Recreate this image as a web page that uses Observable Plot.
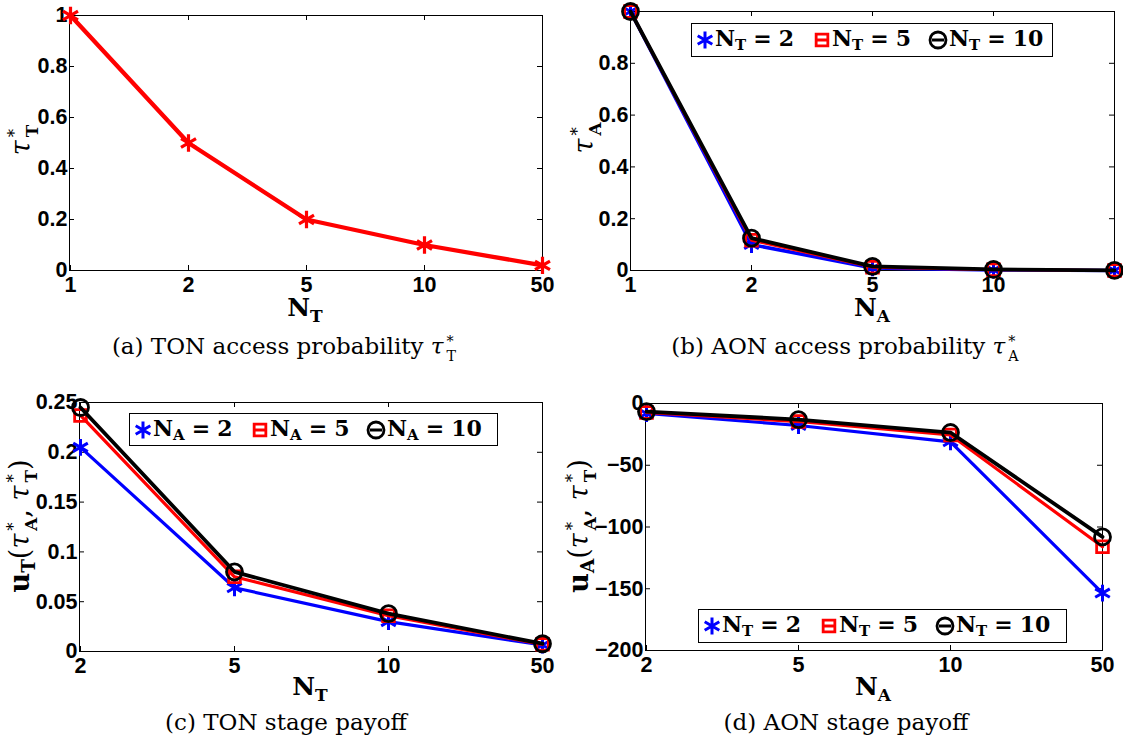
<!DOCTYPE html>
<html><head><meta charset="utf-8">
<script src="https://cdn.jsdelivr.net/npm/d3@7"></script>
<script src="https://cdn.jsdelivr.net/npm/@observablehq/plot@0.6"></script>
<style>
body{margin:0;background:#fff;}
#root{position:relative;width:1123px;height:742px;overflow:hidden;background:#fff;}
.panel{position:absolute;}
.panel svg{overflow:visible;background:transparent;}
.lab{position:absolute;white-space:nowrap;font-family:"DejaVu Serif",serif;line-height:1;}
.cap{font-size:23px;transform:translate(-50%,-50%);}
.xt{font-size:25px;font-weight:bold;transform:translate(-50%,-50%);}
.yt{font-size:27px;transform:translate(-50%,-50%) rotate(-90deg);}
.ss{display:inline-block;vertical-align:-0.5em;font-size:0.62em;line-height:1.05;text-align:left;margin-left:3px;}
.ss>span{display:block;}
.sb{font-size:0.68em;vertical-align:-0.32em;}
.b{font-weight:bold;}
.legend{position:absolute;border:1.5px solid #000;background:#fff;box-sizing:border-box;}
.legend .item{position:absolute;top:50%;transform:translateY(-50%);font-family:"DejaVu Serif",serif;font-weight:bold;font-size:22px;white-space:nowrap;line-height:1;}
.legend svg{position:absolute;top:50%;transform:translate(-50%,-50%);overflow:visible;}
.eq{margin:0 0.32em;}
</style>
</head><body><div id="root"></div>
<script>
// ---------- data ----------
const nT_a = [1, 2, 5, 10, 50];
const tauT = [1, 0.5, 0.2, 0.1, 0.02];
const xLabels_a = ["1", "2", "5", "10", "50"];
const yTicks_a = [0, 0.2, 0.4, 0.6, 0.8, 1];

const nA_b = [1, 2, 5, 10, 50];
const xLabels_b = ["1", "2", "5", "10", ""];
const tauA_NT2 = [1, 0.100, 0.010, 0.002, 0.0003];
const tauA_NT5 = [1, 0.117, 0.013, 0.003, 0.0004];
const tauA_NT10 = [1, 0.125, 0.016, 0.004, 0.0005];
const yTicks_b = [0, 0.2, 0.4, 0.6, 0.8];

const nT_c = [2, 5, 10, 50];
const xLabels_c = ["2", "5", "10", "50"];
const uT_NA2 = [0.205, 0.064, 0.030, 0.0065];
const uT_NA5 = [0.237, 0.075, 0.036, 0.0072];
const uT_NA10 = [0.245, 0.080, 0.038, 0.0078];
const yTicks_c = [0, 0.05, 0.1, 0.15, 0.2, 0.25];

const nA_d = [2, 5, 10, 50];
const xLabels_d = ["2", "5", "10", "50"];
const uA_NT2 = [-8.1, -17.8, -31, -153.5];
const uA_NT5 = [-7.3, -14.6, -25.5, -116];
const uA_NT10 = [-6.5, -13, -23.5, -108];
const yTicks_d = [-200, -150, -100, -50, 0];

const seriesNames_T = ["2", "5", "10"];
const colors = ["#0000ff", "#ff0000", "#000000"];
const symbols = ["asterisk", "square", "circle"];

// ---------- helpers ----------
const root = document.getElementById("root");
const yFmt = d => d < 0 ? "\u2212" + (-d) : String(d);
const markR = [8, 6.6, 8], markSW = [3, 2.8, 2.8];

function makePanel(cfg) {
  const {xs, xLabels, yDomain, yTicks, series, width, height, ml, mr, mt, mb, left, top} = cfg;
  const fw = width - ml - mr, fh = height - mt - mb;
  const T = 5;
  const marks = [
    Plot.ruleX(xs, {insetTop: fh - T, stroke: "#000", strokeWidth: 1}),
    Plot.ruleX(xs, {insetBottom: fh - T, stroke: "#000", strokeWidth: 1}),
    Plot.ruleY(yTicks, {insetRight: fw - T, stroke: "#000", strokeWidth: 1}),
    Plot.ruleY(yTicks, {insetLeft: fw - T, stroke: "#000", strokeWidth: 1}),
    Plot.frame({stroke: "#000", strokeWidth: 1}),
    Plot.axisX({ticks: xs, tickSize: 0, tickPadding: 6, tickFormat: d => xLabels[xs.indexOf(d)], fontSize: 21.5, label: null}),
    Plot.axisY({ticks: yTicks, tickSize: 0, tickPadding: 2, tickFormat: yFmt, fontSize: 21.5, label: null})
  ];
  for (const s of series) {
    const rows = xs.map((x, i) => ({x, y: s.values[i]}));
    marks.push(Plot.line(rows, {x: "x", y: "y", stroke: s.color, strokeWidth: s.lw, strokeLinejoin: "round"}));
    marks.push(Plot.dot(rows, {x: "x", y: "y", symbol: s.symbol, r: s.r, stroke: s.color, strokeWidth: s.sw, fill: "none"}));
  }
  const svg = Plot.plot({
    width, height, marginLeft: ml, marginRight: mr, marginTop: mt, marginBottom: mb,
    x: {type: "point", domain: xs, padding: 0},
    y: {domain: yDomain},
    style: {fontFamily: "'Liberation Sans', Arial, sans-serif", fontWeight: "bold", fontSize: "21.5px", overflow: "visible", color: "#000", background: "transparent"},
    marks
  });
  const div = document.createElement("div");
  div.className = "panel";
  div.style.left = left + "px"; div.style.top = top + "px";
  div.appendChild(svg);
  root.appendChild(div);
}

const three = (vals, lws) => vals.map((v, i) => ({
  values: v, color: colors[i], symbol: symbols[i],
  r: markR[i], sw: markSW[i], lw: lws[i]
}));

// (a)
makePanel({xs: nT_a, xLabels: xLabels_a, yDomain: [0, 1], yTicks: yTicks_a,
  series: [{values: tauT, color: "#ff0000", symbol: "asterisk", r: 8.2, sw: 3.2, lw: 4.3}],
  width: 560, height: 300, ml: 69, mr: 18, mt: 15, mb: 30, left: 0, top: 0});
// (b)
makePanel({xs: nA_b, xLabels: xLabels_b, yDomain: [0, 1], yTicks: yTicks_b,
  series: three([tauA_NT2, tauA_NT5, tauA_NT10], [3.5, 3, 3.8]),
  width: 563, height: 300, ml: 70, mr: 9, mt: 11, mb: 30, left: 560, top: 0});
// (c)
makePanel({xs: nT_c, xLabels: xLabels_c, yDomain: [0, 0.25], yTicks: yTicks_c,
  series: three([uT_NA2, uT_NA5, uT_NA10], [3.2, 3.2, 3.8]),
  width: 560, height: 311, ml: 79, mr: 18, mt: 32, mb: 30, left: 0, top: 370});
// (d)
makePanel({xs: nA_d, xLabels: xLabels_d, yDomain: [-200, 0], yTicks: yTicks_d,
  series: three([uA_NT2, uA_NT5, uA_NT10], [3.2, 3.2, 3.8]),
  width: 563, height: 310, ml: 85, mr: 21, mt: 33, mb: 30, left: 560, top: 370});

// ---------- text labels ----------
const ss = (sup, sub, bold) => `<span class="ss"><span>${sup}</span><span class="${bold ? "b" : ""}">${sub}</span></span>`;
function label(cls, html, x, y) {
  const d = document.createElement("div");
  d.className = "lab " + cls;
  d.style.left = x + "px"; d.style.top = y + "px";
  d.innerHTML = html;
  root.appendChild(d);
}
label("xt", `N<span class="sb">T</span>`, 305, 310);
label("xt", `N<span class="sb">A</span>`, 872, 310);
label("xt", `N<span class="sb">T</span>`, 310, 689);
label("xt", `N<span class="sb">A</span>`, 873, 689);
label("yt", `<i>τ</i>${ss("*", "T", true)}`, 24, 140);
label("yt", `<i>τ</i>${ss("*", "A", true)}`, 587, 138);
label("yt", `<b>u</b><span class="sb b">T</span>(<i>τ</i>${ss("*", "A", true)}, <i>τ</i>${ss("*", "T", true)})`, 23, 526);
label("yt", `<b>u</b><span class="sb b">A</span>(<i>τ</i>${ss("*", "A", true)}, <i>τ</i>${ss("*", "T", true)})`, 582, 526);
label("cap", `(a) TON access probability <i>τ</i>${ss("*", "T", false)}`, 284, 349);
label("cap", `(b) AON access probability <i>τ</i>${ss("*", "A", false)}`, 845, 349);
label("cap", `(c) TON stage payoff`, 286, 722);
label("cap", `(d) AON stage payoff`, 846, 722);

// ---------- legends ----------
function legend(sub, left, top, width, height) {
  const box = document.createElement("div");
  box.className = "legend";
  Object.assign(box.style, {left: left + "px", top: top + "px", width: width + "px", height: height + "px"});
  const mx = [13, 130, 246], tx = [23, 140, 257];
  seriesNames_T.forEach((name, i) => {
    const svg = d3.create("svg").attr("width", 20).attr("height", 20).attr("viewBox", "-10 -10 20 20")
      .style("left", mx[i] + "px");
    if (i > 0) svg.append("line").attr("x1", -6).attr("x2", 6).attr("stroke", colors[i]).attr("stroke-width", 3);
    const sym = {asterisk: d3.symbolAsterisk, square: d3.symbolSquare, circle: d3.symbolCircle}[symbols[i]];
    svg.append("path").attr("d", d3.symbol(sym, Math.PI * markR[i] * markR[i])())
      .attr("fill", "none").attr("stroke", colors[i]).attr("stroke-width", markSW[i]);
    box.appendChild(svg.node());
    const t = document.createElement("div");
    t.className = "item";
    t.style.left = tx[i] + "px";
    t.innerHTML = `N<span class="sb">${sub}</span><span class="eq">=</span>${name}`;
    box.appendChild(t);
  });
  root.appendChild(box);
}
legend("T", 691, 23, 362, 34);
legend("A", 129, 413, 369, 33);
legend("T", 698, 609, 369, 34);
</script>
</body></html>
